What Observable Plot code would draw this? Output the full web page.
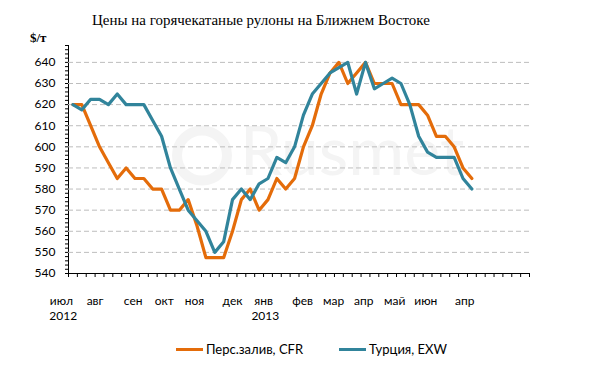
<!DOCTYPE html>
<html>
<head>
<meta charset="utf-8">
<script src="https://cdn.jsdelivr.net/npm/d3@7"></script>
<script src="https://cdn.jsdelivr.net/npm/@observablehq/plot@0.6"></script>
<style>
  html, body { margin: 0; padding: 0; background: #fff; }
  #wrap { position: relative; width: 600px; height: 380px; overflow: hidden; }
  #title { position: absolute; left: 92px; top: 12px; white-space: nowrap;
           font-family: "Liberation Serif", serif; font-size: 16px; color: #000; line-height: 1.2; }
  #unit { position: absolute; left: 30px; top: 30px; font-family: "Liberation Serif", serif;
          font-weight: bold; font-size: 13px; color: #000; }
  #legend { position: absolute; top: 341px; left: 0; width: 600px; font-family: Lato, sans-serif; font-size: 13px; color: #000; }
  .item { position: absolute; display: flex; align-items: center; white-space: nowrap; }
  .sw { display: inline-block; width: 27px; height: 3px; margin-right: 3px; }
  #chart { position: absolute; left: 0; top: 0; }
</style>
</head>
<body>
<div id="wrap">
  <div id="chart"></div>
  <div id="title">Цены на горячекатаные рулоны на Ближнем Востоке</div>
  <div id="unit">$/т</div>
  <div id="legend"></div>
</div>
<script>
// Weekly prices, $/t (Jul 2012 – May 2013)
const gulfCFR = [620, 620, 610, 600, 592.5, 585, 590, 585, 585, 580, 580, 570, 570, 575, 562.5, 547.5, 547.5, 547.5, 560, 575, 580, 570, 575, 585, 580, 585, 600, 610, 625, 635, 640, 630, 635, 640, 630, 630, 630, 620, 620, 620, 615, 605, 605, 600, 590, 585];
const turkeyEXW = [620, 617.5, 622.5, 622.5, 620, 625, 620, 620, 620, 612.5, 605, 590, 580, 570, 565, 560, 550, 555, 575, 580, 575, 582.5, 585, 595, 592.5, 600, 615, 625, 630, 635, 637.5, 640, 625, 640, 627.5, 630, 632.5, 630, 620, 605, 597.5, 595, 595, 595, 585, 580];
const seriesNames = ["Перс.залив, CFR", "Турция, EXW"];
const seriesColors = ["#E46C0A", "#31849B"];
const yTickValues = [540, 550, 560, 570, 580, 590, 600, 610, 620, 630, 640];
const monthLabels = ["июл", "авг", "сен", "окт", "ноя", "дек", "янв", "фев", "мар", "апр", "май", "июн", "апр"];
const monthAt = [-1.3, 2.5, 6.8, 10.3, 13.7, 18.0, 21.5, 25.9, 29.4, 32.8, 36.3, 39.8, 44.2];
const yearLabels = ["2012", "2013"];
const yearAt = [-1.1, 21.7];
const categoryCount = 52;

const week = (d, i) => i;

const chart = Plot.plot({
  width: 600,
  height: 380,
  marginLeft: 68,
  marginRight: 71,
  marginTop: 45,
  marginBottom: 107,
  style: { fontFamily: "Lato, sans-serif", fontSize: "12px", color: "#000", background: "transparent" },
  x: {
    domain: [-0.5, categoryCount - 0.5],
    ticks: d3.range(-0.5, categoryCount, 1),
    tickFormat: () => "",
    tickSize: 4,
    line: true,
    label: null
  },
  y: {
    domain: [540, 648],
    ticks: d3.range(540, 649, 2),
    tickFormat: d => (yTickValues.includes(d) ? String(d) : ""),
    tickSize: 3,
    tickPadding: 10,
    line: true,
    label: null
  },
  marks: [
    // faint watermark
    Plot.dot([0], { frameAnchor: "middle", dx: -97, dy: -4, r: 25, stroke: "#f4f4f4", strokeWidth: 10, fill: "none" }),
    Plot.text(["Rusmet"], { frameAnchor: "middle", dx: 53, dy: -6, fontSize: 68, fill: "#f4f4f4", fontFamily: "Lato, sans-serif" }),
    Plot.ruleY(yTickValues.filter(d => d > 540), { stroke: "#bdbdbd", strokeDasharray: "5,3", strokeWidth: 1 }),
    Plot.line(gulfCFR, { x: week, y: d => d, stroke: seriesColors[0], strokeWidth: 3.2 }),
    Plot.line(turkeyEXW, { x: week, y: d => d, stroke: seriesColors[1], strokeWidth: 3.2 }),
    Plot.text(monthLabels, { x: (d, i) => monthAt[i], text: d => d, frameAnchor: "bottom", dy: 31, fontSize: 12 }),
    Plot.text(yearLabels, { x: (d, i) => yearAt[i], text: d => d, frameAnchor: "bottom", dy: 46, fontSize: 12 })
  ]
});
document.getElementById("chart").appendChild(chart);

// fit the title to the width it has in the reference (about 338px)
const title = document.getElementById("title");
const w = title.getBoundingClientRect().width;
if (w > 0) title.style.fontSize = (16 * 338 / w).toFixed(2) + "px";

// legend
const legend = document.getElementById("legend");
const legendLeft = [176, 339];
seriesNames.forEach((name, i) => {
  const it = document.createElement("div");
  it.className = "item";
  it.style.left = legendLeft[i] + "px";
  const sw = document.createElement("span");
  sw.className = "sw";
  sw.style.background = seriesColors[i];
  it.appendChild(sw);
  it.appendChild(document.createTextNode(name));
  legend.appendChild(it);
});
</script>
</body>
</html>
